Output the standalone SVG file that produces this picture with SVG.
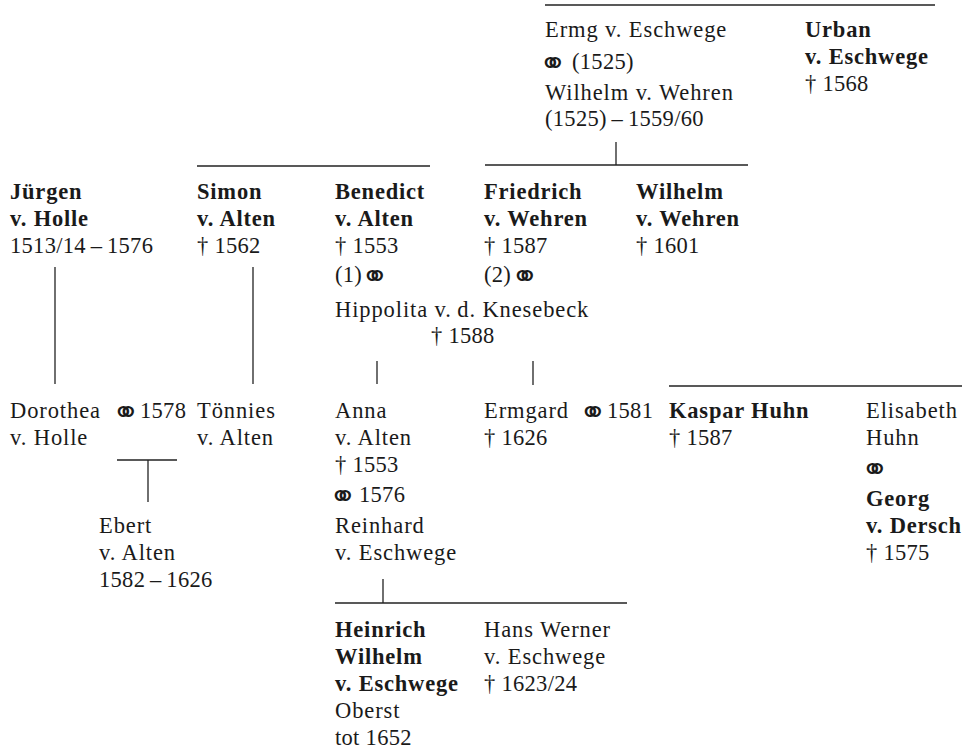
<svg xmlns="http://www.w3.org/2000/svg" width="971" height="749" viewBox="0 0 971 749">
<style>
text{font-family:"Liberation Serif","Times New Roman",serif;font-size:22.5px;fill:#1a1a1a;letter-spacing:0.9px}
.b{font-weight:bold;letter-spacing:0.8px}
.n{letter-spacing:0.3px}
text.m{font-family:"DejaVu Sans",sans-serif;font-size:33px;letter-spacing:-9px;font-weight:200}
.c line{stroke:#222;stroke-width:1.3}
</style>
<rect width="971" height="749" fill="#fff"/>
<g class="c" id="connectors">
<line x1="545" y1="5" x2="935" y2="5"/>
<line x1="616" y1="142" x2="616" y2="165"/>
<line x1="485" y1="165" x2="748" y2="165"/>
<line x1="197" y1="166" x2="430" y2="166"/>
<line x1="55" y1="267" x2="55" y2="384"/>
<line x1="253" y1="267" x2="253" y2="384"/>
<line x1="377" y1="361" x2="377" y2="384"/>
<line x1="533" y1="361" x2="533" y2="385"/>
<line x1="669" y1="386" x2="962" y2="386"/>
<line x1="117" y1="460" x2="177" y2="460"/>
<line x1="148" y1="460" x2="148" y2="502"/>
<line x1="383" y1="579" x2="383" y2="603"/>
<line x1="335" y1="603" x2="627" y2="603"/>
</g>
<g id="ermg">
<text x="545" y="37">Ermg v. Eschwege</text>
<text class="m" x="539" y="74">⚭</text>
<text class="n" x="572" y="69">(1525)</text>
<text x="545" y="100">Wilhelm v. Wehren</text>
<text class="n" x="545" y="126">(1525)&#8201;–&#8201;1559/60</text>
</g>
<g id="urban">
<text class="b" x="805" y="37">Urban</text>
<text class="b" x="805" y="64">v. Eschwege</text>
<text class="n" x="805" y="91">† 1568</text>
</g>
<g id="juergen">
<text class="b" x="10" y="199">Jürgen</text>
<text class="b" x="10" y="226">v. Holle</text>
<text class="n" x="10" y="253">1513/14&#8201;–&#8201;1576</text>
</g>
<g id="simon">
<text class="b" x="197" y="199">Simon</text>
<text class="b" x="197" y="226">v. Alten</text>
<text class="n" x="197" y="253">† 1562</text>
</g>
<g id="benedict">
<text class="b" x="335" y="199">Benedict</text>
<text class="b" x="335" y="226">v. Alten</text>
<text class="n" x="335" y="253">† 1553</text>
<text class="n" x="335" y="282">(1)</text>
<text class="m" x="361" y="287">⚭</text>
</g>
<g id="hippolita">
<text x="335" y="317">Hippolita v.&#8201;d. Knesebeck</text>
<text class="n" x="431" y="343">† 1588</text>
</g>
<g id="friedrich">
<text class="b" x="484" y="199">Friedrich</text>
<text class="b" x="484" y="226">v. Wehren</text>
<text class="n" x="484" y="253">† 1587</text>
<text class="n" x="484" y="282">(2)</text>
<text class="m" x="511" y="287">⚭</text>
</g>
<g id="wilhelm">
<text class="b" x="636" y="199">Wilhelm</text>
<text class="b" x="636" y="226">v. Wehren</text>
<text class="n" x="636" y="253">† 1601</text>
</g>
<g id="dorothea">
<text x="10" y="418">Dorothea</text>
<text x="10" y="445">v. Holle</text>
<text class="m" x="112" y="423">⚭</text>
<text class="n" x="140" y="418">1578</text>
</g>
<g id="toennies">
<text x="197" y="418">Tönnies</text>
<text x="197" y="445">v. Alten</text>
</g>
<g id="anna">
<text x="335" y="418">Anna</text>
<text x="335" y="445">v. Alten</text>
<text class="n" x="335" y="472">† 1553</text>
<text class="m" x="329" y="507">⚭</text>
<text class="n" x="359" y="502">1576</text>
<text x="335" y="533">Reinhard</text>
<text x="335" y="560">v. Eschwege</text>
</g>
<g id="ermgard">
<text x="484" y="418">Ermgard</text>
<text class="n" x="484" y="445">† 1626</text>
<text class="m" x="579" y="423">⚭</text>
<text class="n" x="607" y="418">1581</text>
</g>
<g id="kaspar">
<text class="b" x="669" y="418">Kaspar Huhn</text>
<text class="n" x="669" y="445">† 1587</text>
</g>
<g id="elisabeth">
<text x="866" y="418">Elisabeth</text>
<text x="866" y="445">Huhn</text>
<text class="m" x="861" y="480">⚭</text>
<text class="b" x="866" y="506">Georg</text>
<text class="b" x="866" y="533">v. Dersch</text>
<text class="n" x="866" y="560">† 1575</text>
</g>
<g id="ebert">
<text x="99" y="533">Ebert</text>
<text x="99" y="560">v. Alten</text>
<text class="n" x="99" y="587">1582&#8201;–&#8201;1626</text>
</g>
<g id="heinrich">
<text class="b" x="335" y="637">Heinrich</text>
<text class="b" x="335" y="664">Wilhelm</text>
<text class="b" x="335" y="691">v. Eschwege</text>
<text x="335" y="718">Oberst</text>
<text class="n" x="335" y="745">tot 1652</text>
</g>
<g id="hanswerner">
<text x="484" y="637">Hans Werner</text>
<text x="484" y="664">v. Eschwege</text>
<text class="n" x="484" y="691">† 1623/24</text>
</g>
</svg>
